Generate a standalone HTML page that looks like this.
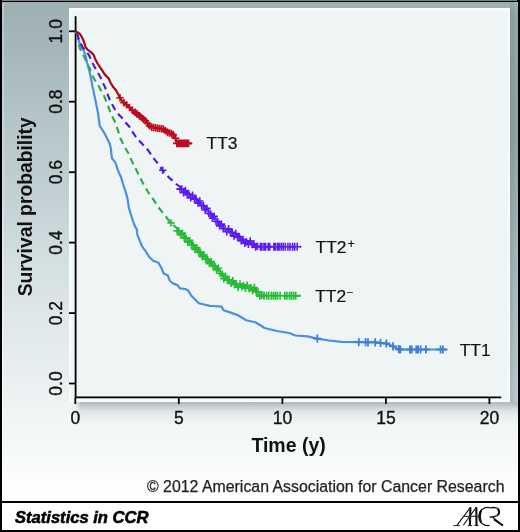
<!DOCTYPE html>
<html><head><meta charset="utf-8"><style>
html,body{margin:0;padding:0;}
body{width:520px;height:532px;position:relative;overflow:hidden;background:#fff;font-family:"Liberation Sans",sans-serif;}
.bg{position:absolute;left:0;top:0;width:520px;height:502px;background:linear-gradient(to bottom,#9db0b4 0px,#a3b5b9 40px,#b4c5c8 120px,#c3d1d4 200px,#d3dfe1 260px,#e1e9eb 330px,#e8eeef 370px,#f1f6f6 420px,#f6f9f9 450px,#fcfdfd 480px,#fff 501px);}
.rband{position:absolute;left:509.5px;top:2px;width:8px;height:400px;background:linear-gradient(to bottom,#9db0b4 0px,#96aaae 6px,#8ea2a7 12px,#8a9ea3 130px,#97a9ad 195px,#a0b3b7 260px,#b0c1c4 360px,#b8c7ca 400px);}
.rband2{position:absolute;left:509.5px;top:2px;width:8px;height:400px;background:linear-gradient(to right,rgba(60,80,85,0.12),rgba(60,80,85,0) 60%,rgba(255,255,255,0.08) 100%);}
.bshadow{position:absolute;left:75px;top:401.5px;width:442.5px;height:26px;background:linear-gradient(to bottom,rgba(90,120,125,0.45) 0px,rgba(90,120,125,0.32) 4px,rgba(90,120,125,0.16) 8px,rgba(90,120,125,0.06) 13px,rgba(90,120,125,0) 24px);-webkit-mask-image:linear-gradient(to right,transparent 0,#000 6px);mask-image:linear-gradient(to right,transparent 0,#000 6px);}
.panel{position:absolute;left:69px;top:8px;width:440.5px;height:393.5px;background:#eff5f5;box-shadow:inset 0 3px 1.5px #fafcfc,inset 2.5px 0 1.5px rgba(250,252,252,0.85),inset -2px -3px 1px #f7fbfb;}
.frame{position:absolute;left:0;top:0;width:520px;height:532px;box-sizing:border-box;border-top:2.7px solid #000;border-left:2px solid #000;border-right:2.6px solid #000;border-bottom:2.5px solid #000;}
.lstrip{position:absolute;left:2px;top:2.5px;width:2px;height:499px;background:rgba(255,255,255,0.28);}
.tline{position:absolute;left:2px;top:0;width:515px;height:0.8px;background:#808080;}
.sep{position:absolute;left:0;top:501px;width:520px;height:2.2px;background:#000;}
.foot{position:absolute;left:0;top:503px;width:520px;height:29px;background:#fff;}
svg{position:absolute;left:0;top:0;opacity:0.999;}
</style></head><body>
<div class="bg"></div>
<div class="rband"></div>
<div class="rband2"></div>
<div class="bshadow"></div>
<div class="panel"></div>
<div class="lstrip"></div>
<div class="foot"></div>
<div class="sep"></div>
<div class="frame"></div>
<div class="tline"></div>
<svg width="520" height="532" viewBox="0 0 520 532">
<g stroke="#000" stroke-width="1.8" fill="none">
<path d="M75.6 16.3V397.5M75.6 397.4H501.2"/>
<path d="M69 383.5H75.6"/>
<path d="M69 313.1H75.6"/>
<path d="M69 242.6H75.6"/>
<path d="M69 172.2H75.6"/>
<path d="M69 101.7H75.6"/>
<path d="M69 31.3H75.6"/>
<path d="M75.3 397.4V404"/>
<path d="M178.8 397.4V404"/>
<path d="M282.4 397.4V404"/>
<path d="M385.9 397.4V404"/>
<path d="M489.4 397.4V404"/>
</g>
<g fill="none" stroke-linejoin="round">
<polyline points="75.5,31.3 76.8,33.7 78.3,39.4 80.7,46.2 83.5,50.0 85.5,55.8 87.2,63.1 89.5,71.5 91.1,79.2 92.6,86.9 94.2,94.6 95.9,102.5 98.1,113.5 99.8,126.2 101.5,128.5 105.0,134.2 109.6,143.5 110.8,148.1 111.9,158.1 115.4,162.7 117.7,169.6 121.2,177.7 122.9,183.5 125.2,190.4 127.5,198.5 128.7,206.9 131.0,215.0 133.3,221.9 135.0,226.5 136.7,228.8 137.3,234.6 139.6,240.4 141.9,246.2 145.4,250.8 149.0,256.7 153.1,260.8 158.5,262.8 161.2,267.5 163.8,273.6 167.9,275.6 169.9,281.0 173.3,283.6 177.3,285.0 180.0,288.4 185.4,289.0 188.1,290.4 191.4,295.8 196.1,300.5 198.8,303.2 204.2,304.5 209.6,305.9 213.1,306.0 221.5,306.6 223.5,310.3 230.8,312.6 238.0,315.3 246.2,320.2 255.4,322.3 260.0,325.0 264.6,328.0 276.9,331.0 289.2,333.0 295.4,335.5 307.7,336.4 316.9,338.6 329.2,340.5 341.5,341.9 378.0,342.4 380.5,343.0 386.3,343.5 393.0,346.3 398.0,349.0 400.0,349.5 447.5,349.5" stroke="#4a90e2" stroke-width="2.2"/>
<polyline points="75.5,31.3 77.3,35.6 78.7,43.3 79.7,48.1 82.6,53.8 85.5,59.6 87.2,64.6 89.5,67.7 91.5,73.8 94.2,79.2 98.0,84.6 101.1,90.8 104.2,96.2 107.3,104.2 110.8,113.5 114.8,121.5 117.7,129.6 120.6,138.8 124.6,146.9 128.7,153.8 130.4,158.1 135.0,167.3 139.6,176.5 143.1,183.5 147.7,191.5 153.5,199.6 158.1,206.9 162.7,212.7 167.3,218.5 171.0,223.3 177.3,228.5 183.1,234.2 188.8,240.0 194.6,245.8 200.4,251.5 206.2,257.3 211.5,262.3 217.5,267.5 223.8,275.4 230.8,280.0 237.7,284.0 244.6,284.8 251.5,286.9 254.6,288.0 258.3,291.3 261.5,294.6 262.5,295.8 300.8,295.8" stroke="#27ab44" stroke-width="2.1" stroke-dasharray="6.8 4.6" stroke-dashoffset="-2.2"/>
<polyline points="75.5,31.3 76.8,32.7 78.7,38.5 80.7,43.3 83.1,48.1 85.5,51.0 88.8,54.8 91.8,61.5 94.2,66.2 97.2,71.5 100.3,76.9 102.6,82.3 104.9,86.9 107.2,93.5 110.5,101.5 116.5,112.3 121.2,116.9 125.8,122.7 129.8,127.3 133.3,133.1 137.3,138.8 141.9,143.5 147.7,149.6 153.5,158.1 158.1,163.8 162.7,170.7 169.2,177.7 176.2,184.0 181.9,188.1 187.7,192.7 193.5,196.2 199.2,200.8 205.0,206.5 210.8,213.2 216.5,219.3 220.0,223.0 224.2,227.4 230.0,229.8 234.6,233.2 240.4,236.6 243.8,240.8 249.6,241.2 255.4,243.5 256.2,244.5 257.3,246.7 301.2,246.7" stroke="#5014dc" stroke-width="2.1" stroke-dasharray="6.8 4.6" stroke-dashoffset="-2.2"/>
<polyline points="75.5,31.3 79.7,33.7 82.1,37.5 84.0,41.8 85.5,47.1 87.4,49.5 91.2,52.4 93.6,54.8 95.1,58.7 97.5,63.5 100.8,68.3 104.9,74.6 108.8,78.5 110.3,82.3 112.6,86.2 115.8,90.0 118.7,95.3 121.1,99.8 124.5,103.2 128.3,106.3 132.2,110.2 136.0,113.1 140.8,116.9 145.7,121.0 148.5,124.5 150.5,127.0 157.6,128.2 163.4,129.0 167.2,132.3 172.0,133.8 174.9,135.7 175.9,140.0 176.8,143.4 191.3,143.4" stroke="#a20c1e" stroke-width="2.2"/>
<path d="M313.2 338.7H321.4M317.3 334.6V342.8M354.7 342.1H362.9M358.8 338.0V346.2M361.5 342.2H369.7M365.6 338.1V346.3M363.9 342.3H372.1M368.0 338.2V346.4M371.1 342.4H379.3M375.2 338.3V346.5M376.4 343.0H384.6M380.5 338.9V347.1M382.2 343.5H390.4M386.3 339.4V347.6M388.9 346.3H397.1M393.0 342.2V350.4M394.7 349.2H402.9M398.8 345.1V353.3M396.3 349.5H404.5M400.4 345.4V353.6M405.9 349.5H414.1M410.0 345.4V353.6M407.6 349.5H415.8M411.7 345.4V353.6M412.2 349.5H420.4M416.3 345.4V353.6M414.0 349.5H422.2M418.1 345.4V353.6M416.5 349.5H424.7M420.6 345.4V353.6M421.8 349.5H430.0M425.9 345.4V353.6M436.5 349.5H444.7M440.6 345.4V353.6M438.8 349.5H447.0M442.9 345.4V353.6" stroke="#3f7fd6" stroke-width="1.8"/>
<path d="M167.3 222.9H174.7M171.0 219.2V226.6M173.3 230.7H180.7M177.0 227.0V234.4M175.1 230.9H182.5M178.8 227.2V234.6M176.9 235.0H184.3M180.6 231.3V238.7M178.7 233.1H186.1M182.4 229.4V236.8M180.5 237.7H187.9M184.2 234.0V241.4M182.3 238.1H189.7M186.0 234.4V241.8M184.1 242.3H191.5M187.8 238.6V246.0M185.9 240.4H193.3M189.6 236.7V244.1M187.7 245.0H195.1M191.4 241.3V248.7M189.5 245.3H196.9M193.2 241.6V249.0M191.3 249.5H198.7M195.0 245.8V253.2M193.1 247.6H200.5M196.8 243.9V251.3M194.9 252.1H202.3M198.6 248.4V255.8M196.7 252.4H204.1M200.4 248.7V256.1M198.5 256.6H205.9M202.2 252.9V260.3M200.3 254.7H207.7M204.0 251.0V258.4M202.1 259.3H209.5M205.8 255.6V263.0M203.9 259.5H211.3M207.6 255.8V263.2M205.7 263.6H213.1M209.4 259.9V267.3M207.5 261.6H214.9M211.2 257.9V265.3M209.3 266.0H216.7M213.0 262.3V269.7M211.1 266.1H218.5M214.8 262.4V269.8M212.9 270.0H220.3M216.6 266.3V273.7M214.7 268.2H222.1M218.4 264.5V271.9M216.5 273.3H223.9M220.2 269.6V277.0M218.3 274.0H225.7M222.0 270.3V277.7M220.1 278.7H227.5M223.8 275.0V282.4M221.9 276.2H229.3M225.6 272.5V279.9M223.7 280.2H231.1M227.4 276.5V283.9M225.5 279.8H232.9M229.2 276.1V283.5M227.3 283.4H234.7M231.0 279.7V287.1M229.1 280.8H236.5M232.8 277.1V284.5M230.9 284.6H238.3M234.6 280.9V288.3M232.7 284.1H240.1M236.4 280.4V287.8M234.5 287.4H241.9M238.2 283.7V291.1M236.3 283.9H243.7M240.0 280.2V287.6M238.1 286.9H245.5M241.8 283.2V290.6M239.9 285.6H247.3M243.6 281.9V289.3M241.7 288.3H249.1M245.4 284.6V292.0M243.5 285.2H250.9M247.2 281.5V288.9M245.3 288.5H252.7M249.0 284.8V292.2M247.1 287.6H254.5M250.8 283.9V291.3M248.9 290.6H256.3M252.6 286.9V294.3M250.7 287.5H258.1M254.4 283.8V291.2M252.5 291.8H259.9M256.2 288.1V295.5M254.3 291.9H261.7M258.0 288.2V295.6M256.1 296.1H263.5M259.8 292.4V299.8M257.9 295.1H265.9M261.9 291.1V299.1M260.0 295.8H268.0M264.0 291.8V299.8M262.6 295.8H270.6M266.6 291.8V299.8M264.7 295.8H272.7M268.7 291.8V299.8M267.3 295.8H275.3M271.3 291.8V299.8M269.4 295.8H277.4M273.4 291.8V299.8M271.4 295.8H279.4M275.4 291.8V299.8M273.5 295.8H281.5M277.5 291.8V299.8M276.1 295.8H284.1M280.1 291.8V299.8M280.8 295.8H288.8M284.8 291.8V299.8M282.9 295.8H290.9M286.9 291.8V299.8M285.5 295.8H293.5M289.5 291.8V299.8M287.5 295.8H295.5M291.5 291.8V299.8M289.6 295.8H297.6M293.6 291.8V299.8M291.7 295.8H299.7M295.7 291.8V299.8" stroke="#22bb32" stroke-width="1.6"/>
<path d="M159.0 170.3H166.4M162.7 166.6V174.0M176.3 189.1H183.7M180.0 185.4V192.8M178.1 188.9H185.5M181.8 185.2V192.6M179.9 192.7H187.3M183.6 189.0V196.4M181.7 190.5H189.1M185.4 186.8V194.2M183.5 194.7H190.9M187.2 191.0V198.4M185.3 194.4H192.7M189.0 190.7V198.1M187.1 197.9H194.5M190.8 194.2V201.6M188.9 195.3H196.3M192.6 191.6V199.0M190.7 199.3H198.1M194.4 195.6V203.0M192.5 199.3H199.9M196.2 195.6V203.0M194.3 203.1H201.7M198.0 199.4V206.8M196.1 201.0H203.5M199.8 197.3V204.7M197.9 205.6H205.3M201.6 201.9V209.3M199.7 205.8H207.1M203.4 202.1V209.5M201.5 210.0H208.9M205.2 206.3V213.7M203.3 208.4H210.7M207.0 204.7V212.1M205.1 213.3H212.5M208.8 209.6V217.0M206.9 213.9H214.3M210.6 210.2V217.6M208.7 218.2H216.1M212.4 214.5V221.9M210.5 216.4H217.9M214.2 212.7V220.1M212.3 221.2H219.7M216.0 217.5V224.9M214.1 221.6H221.5M217.8 217.9V225.3M215.9 225.9H223.3M219.6 222.2V229.6M217.7 224.1H225.1M221.4 220.4V227.8M219.5 228.8H226.9M223.2 225.1V232.5M221.3 228.6H228.7M225.0 224.9V232.3M223.1 231.8H230.5M226.8 228.1V235.5M224.9 228.8H232.3M228.6 225.1V232.5M226.7 232.5H234.1M230.4 228.8V236.2M228.5 232.3H235.9M232.2 228.6V236.0M230.3 236.1H237.7M234.0 232.4V239.8M232.1 233.5H239.5M235.8 229.8V237.2M233.9 237.4H241.3M237.6 233.7V241.1M235.7 236.9H243.1M239.4 233.2V240.6M237.5 240.9H244.9M241.2 237.2V244.6M239.3 239.4H246.7M243.0 235.7V243.1M241.1 243.3H248.5M244.8 239.6V247.0M242.9 241.9H250.3M246.6 238.2V245.6M244.7 244.4H252.1M248.4 240.7V248.1M246.5 241.0H253.9M250.2 237.3V244.7M248.3 244.6H255.7M252.0 240.9V248.3M250.1 243.8H257.5M253.8 240.1V247.5M251.9 247.1H259.3M255.6 243.4V250.8M253.7 246.3H261.1M257.4 242.6V250.0M256.4 246.7H264.4M260.4 242.7V250.7M257.9 246.7H265.9M261.9 242.7V250.7M260.0 246.7H268.0M264.0 242.7V250.7M261.6 246.7H269.6M265.6 242.7V250.7M264.2 246.7H272.2M268.2 242.7V250.7M265.7 246.7H273.7M269.7 242.7V250.7M269.9 246.7H277.9M273.9 242.7V250.7M271.4 246.7H279.4M275.4 242.7V250.7M273.5 246.7H281.5M277.5 242.7V250.7M275.1 246.7H283.1M279.1 242.7V250.7M277.2 246.7H285.2M281.2 242.7V250.7M279.2 246.7H287.2M283.2 242.7V250.7M281.3 246.7H289.3M285.3 242.7V250.7M283.9 246.7H291.9M287.9 242.7V250.7M286.0 246.7H294.0M290.0 242.7V250.7M288.6 246.7H296.6M292.6 242.7V250.7M290.7 246.7H298.7M294.7 242.7V250.7M293.2 246.7H301.2M297.2 242.7V250.7" stroke="#5c1cf0" stroke-width="1.6"/>
<path d="M116.2 97.7H123.8M120.0 93.9V101.5M120.2 102.7H127.8M124.0 98.9V106.5M122.7 104.8H130.3M126.5 101.0V108.6M125.7 107.5H133.3M129.5 103.7V111.3M128.7 110.4H136.3M132.5 106.6V114.2M131.2 112.3H138.8M135.0 108.5V116.1M133.2 113.9H140.8M137.0 110.1V117.7M135.7 115.9H143.3M139.5 112.1V119.7M137.7 117.5H145.3M141.5 113.7V121.3M139.7 119.2H147.3M143.5 115.4V123.0M141.7 120.8H149.3M145.5 117.0V124.6M143.7 123.2H151.3M147.5 119.5V127.0M145.7 125.8H153.3M149.5 122.0V129.6M147.7 127.2H155.3M151.5 123.4V131.0M149.7 127.5H157.3M153.5 123.7V131.3M151.7 127.8H159.3M155.5 124.0V131.6M153.7 128.2H161.3M157.5 124.4V132.0M155.7 128.5H163.3M159.5 124.7V132.3M157.7 128.7H165.3M161.5 124.9V132.5M159.7 129.1H167.3M163.5 125.3V132.9M161.7 130.8H169.3M165.5 127.0V134.6M163.7 132.4H171.3M167.5 128.6V136.2M165.7 133.0H173.3M169.5 129.2V136.8M167.7 133.6H175.3M171.5 129.8V137.4M169.5 134.7H177.1M173.3 130.9V138.5M171.7 138.3H179.3M175.5 134.5V142.1M173.0 143.4H180.6M176.8 139.6V147.2M174.3 143.4H181.9M178.1 139.6V147.2M175.6 143.4H183.2M179.4 139.6V147.2M176.9 143.4H184.5M180.7 139.6V147.2M178.2 143.4H185.8M182.0 139.6V147.2M179.5 143.4H187.1M183.3 139.6V147.2M180.8 143.4H188.4M184.6 139.6V147.2M182.1 143.4H189.7M185.9 139.6V147.2M183.4 143.4H191.0M187.2 139.6V147.2M184.7 143.4H192.3M188.5 139.6V147.2" stroke="#bc0a1e" stroke-width="1.6"/>
</g>
<g font-family="Liberation Sans, sans-serif" font-size="17.5" fill="#111" stroke="#111" stroke-width="0.35" text-anchor="middle">
<text transform="translate(62.4 383.5) rotate(-90)">0.0</text>
<text transform="translate(62.4 313.1) rotate(-90)">0.2</text>
<text transform="translate(62.4 242.6) rotate(-90)">0.4</text>
<text transform="translate(62.4 172.2) rotate(-90)">0.6</text>
<text transform="translate(62.4 101.7) rotate(-90)">0.8</text>
<text transform="translate(62.4 31.3) rotate(-90)">1.0</text>
<text x="75.3" y="424.3">0</text>
<text x="178.8" y="424.3">5</text>
<text x="282.4" y="424.3">10</text>
<text x="385.9" y="424.3">15</text>
<text x="489.4" y="424.3">20</text>
</g>
<g font-family="Liberation Sans, sans-serif" font-weight="bold" fill="#111" text-anchor="middle">
<text x="288.6" y="451.7" font-size="19.5">Time (y)</text>
<text transform="translate(32.4 206.8) rotate(-90)" font-size="19.3">Survival probability</text>
</g>
<g font-family="Liberation Sans, sans-serif" font-size="17.4" fill="#111" stroke="#111" stroke-width="0.2">
<text x="206.6" y="149.2">TT3</text>
<text x="315.6" y="253.3">TT2<tspan font-size="12" dx="1.2" dy="-5.5">+</tspan></text>
<text x="315.2" y="302.4">TT2<tspan font-size="11" dx="0.6" dy="-6.3">&#8722;</tspan></text>
<text x="459.7" y="355.5">TT1</text>
</g>
<text x="147" y="492.1" font-family="Liberation Sans, sans-serif" font-size="16" fill="#222" stroke="#222" stroke-width="0.25" textLength="357.5" lengthAdjust="spacingAndGlyphs">&#169; 2012 American Association for Cancer Research</text>
<text x="15" y="522.6" font-family="Liberation Sans, sans-serif" font-size="16.5" font-weight="bold" font-style="italic" fill="#000" stroke="#000" stroke-width="0.55" textLength="133.5" lengthAdjust="spacingAndGlyphs">Statistics in CCR</text>
<g stroke="#111" fill="none" stroke-linecap="butt">
<path d="M456.9 525.3L470.5 507.3M463.3 525.3L476.3 507.3" stroke-width="1.1"/>
<path d="M470.4 507.3L469.9 525.4M476.3 507.3L476.5 525.4" stroke-width="2.1"/>
<path d="M463.8 516.3H478.6" stroke-width="1.2" stroke="#333"/>
<path d="M453.3 525.6H460M467.8 525.6H472.3M474.3 525.6H478.6" stroke-width="0.9"/>
<path d="M489.6 507.7C484.2 506.4 478.9 510.2 478.9 516.3C478.9 522.5 483.6 526.3 489.6 525.4" stroke-width="1.2"/>
<path d="M481.3 510.2C479.3 513.5 479.3 519.3 481.3 522.5" stroke-width="2.2"/>
<path d="M489.5 507.9C494 507 499.3 507.4 499.3 511.8C499.3 515.6 495 517.1 489.6 517.1M492.2 517L502.9 525.5" stroke-width="1.3"/>
<path d="M498 509C499.5 511 499.5 513 498 515" stroke-width="2"/>
<path d="M494 519.5L502.9 525.5" stroke-width="1.9"/>
</g>
</svg>
</body></html>
